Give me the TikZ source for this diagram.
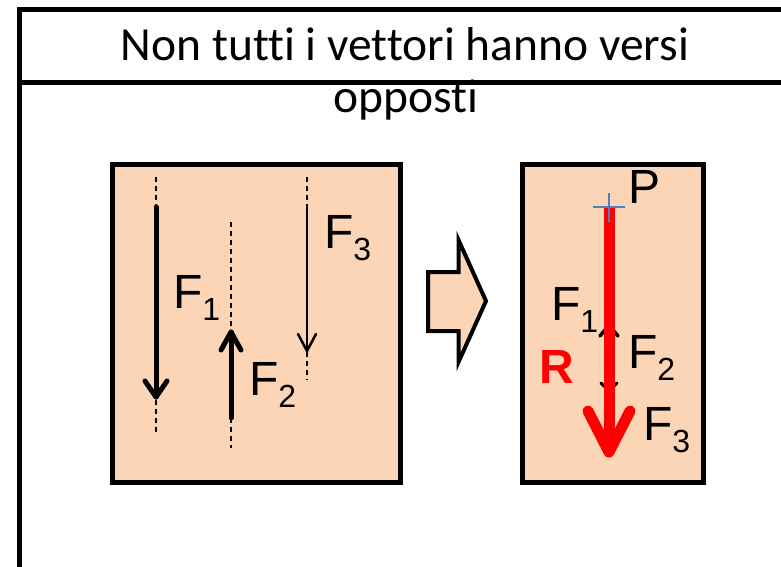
\documentclass[tikz,border=0pt]{standalone}
\usepackage{fontspec}
\setmainfont{Liberation Sans}
\newfontfamily\titlefont[Ligatures=NoCommon]{Carlito}
\definecolor{peach}{HTML}{FBD5B5}
\definecolor{crossblue}{HTML}{4F81BD}
\newcommand{\Flab}[1]{{\fontsize{48}{48}\selectfont F}\raisebox{-12pt}{\fontsize{32}{32}\selectfont #1}}
\begin{document}
\begin{tikzpicture}[x=1pt,y=-1pt,
  frameline/.style={line width=5pt,line join=miter},
  panel/.style={draw=black,line width=5pt,fill=peach},
  axisline/.style={line width=1.5pt,dash pattern=on 5pt off 4pt},
  vecthick/.style={line width=5pt,line cap=round,line join=round},
  vecthin/.style={line width=2.5pt,line cap=round,line join=round},
  lab/.style={anchor=base west,inner sep=0pt,outer sep=0pt}]
\useasboundingbox (0,0) rectangle (781,566);
\clip (0,0) rectangle (781,566);
% frame
\draw[frameline] (19.5,580) -- (19.5,9.5) -- (800,9.5);
\draw[frameline] (19.5,82.5) -- (800,82.5);
\node[anchor=base,inner sep=0pt] (title1) at (405,60) {\titlefont\fontsize{47.5}{47.5}\selectfont Non tutti i vettori hanno versi};
\node[anchor=base,inner sep=0pt] (title2) at (406,112) {\titlefont\fontsize{47.5}{47.5}\selectfont opposti};
% panels
\node[panel,minimum width=287.5pt,minimum height=318.5pt,inner sep=0pt,anchor=north west] (left) at (110,161.5) {};
\node[panel,minimum width=181pt,minimum height=318.5pt,inner sep=0pt,anchor=north west] (right) at (519.5,161.5) {};
% block arrow
\draw[line width=4pt,fill=peach,line join=miter] (428,272) -- (458.5,272) -- (458.5,240) -- (486,301) -- (458.5,362) -- (458.5,331) -- (428,331) -- cycle;
% left panel vectors
\coordinate (a1s) at (156,207); \coordinate (a1t) at (156,397);
\draw[axisline] (156,177) -- (a1s);
\draw[axisline] (156,400) -- (156,433);
\draw[vecthick] (a1s) -- (a1t);
\draw[vecthick] (145,381) -- (a1t) -- (167,381);
\coordinate (a2s) at (231,418); \coordinate (a2t) at (231,332);
\draw[axisline] (231,222) -- (231,330);
\draw[axisline] (231,418) -- (231,448);
\draw[vecthick] (a2s) -- (a2t);
\draw[vecthick] (221,350) -- (a2t) -- (241,350);
\coordinate (a3s) at (307,205); \coordinate (a3t) at (307,351);
\draw[axisline] (307,177) -- (a3s);
\draw[axisline] (307,352) -- (307,380);
\draw[vecthin] (a3s) -- (a3t);
\draw[vecthin] (298,334) -- (a3t) -- (316,334);
\node[lab] (f1l) at (173,308) {\Flab{1}};
\node[lab] (f2l) at (249,395) {\Flab{2}};
\node[lab] (f3l) at (324,248) {\Flab{3}};
% right panel
\draw[line width=3.5pt,line cap=round,line join=round] (600,336) -- (609,325) -- (618,336);
\draw[line width=3pt,line cap=round,line join=round] (601,383) -- (609,391) -- (617,383);
\coordinate (Pt) at (609,207);
\coordinate (Rt) at (609,452);
\draw[red,line width=11pt] (Pt) -- (609,445);
\draw[red,line width=11pt,line cap=round,line join=round] (588,411) -- (Rt) -- (630,411);
\draw[crossblue,line width=2pt] (593,207) -- (625,207);
\draw[crossblue,line width=2pt] (609,193) -- (609,222);
\node[lab] (plab) at (628,203) {\fontsize{48}{48}\selectfont P};
\node[lab,text=red] (rlab) at (539,383) {\fontsize{48}{48}\selectfont\bfseries R};
\node[lab] (f1r) at (551,320) {\Flab{1}};
\node[lab] (f2r) at (628,368) {\Flab{2}};
\node[lab] (f3r) at (643,440) {\Flab{3}};
\end{tikzpicture}
\end{document}
